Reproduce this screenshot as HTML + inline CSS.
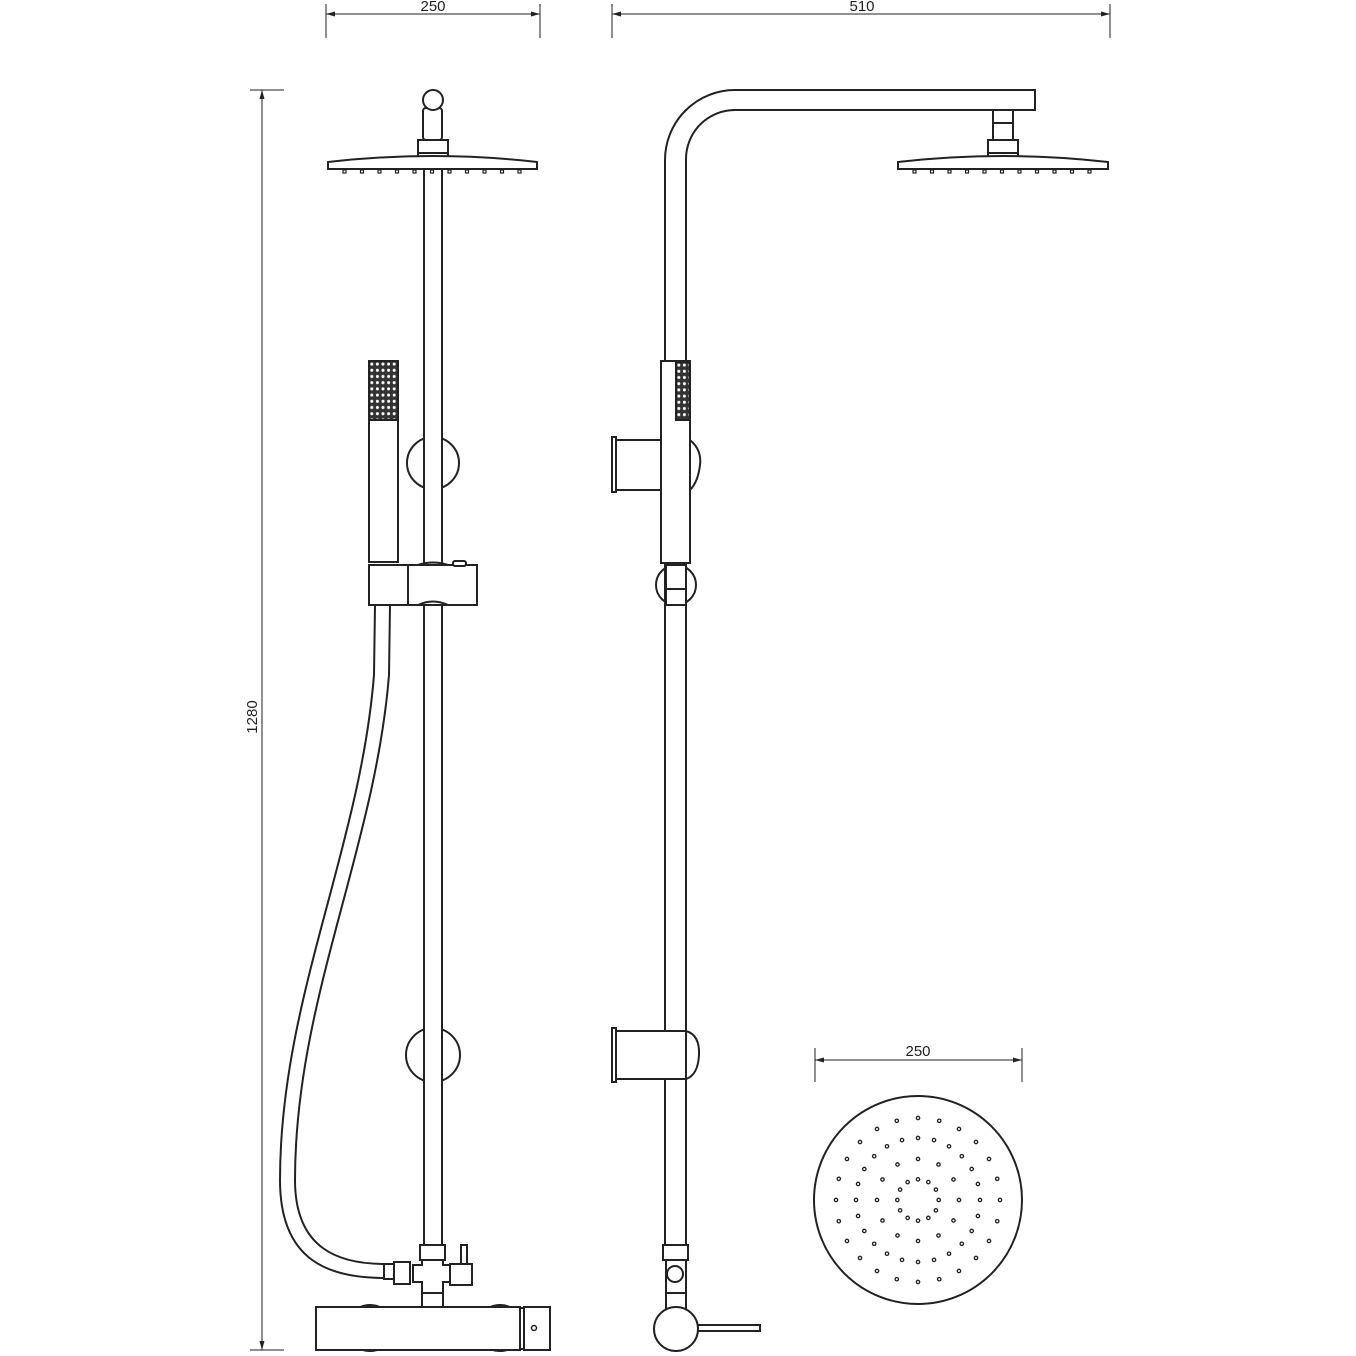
<!DOCTYPE html>
<html><head><meta charset="utf-8"><style>html,body{margin:0;padding:0;background:#fff}svg{display:block}</style></head>
<body>
<svg width="1356" height="1356" viewBox="0 0 1356 1356" xmlns="http://www.w3.org/2000/svg" font-family="Liberation Sans, sans-serif">
<defs>
<pattern id="grL" x="369" y="361" width="5.6" height="6.2" patternUnits="userSpaceOnUse">
<rect width="5.6" height="6.2" fill="#333"/><circle cx="2.8" cy="3.1" r="1.5" fill="#fff"/></pattern>
<pattern id="grR" x="676" y="362" width="5.6" height="6.2" patternUnits="userSpaceOnUse">
<rect width="5.6" height="6.2" fill="#333"/><circle cx="2.8" cy="3.1" r="1.5" fill="#fff"/></pattern>
<g id="nz">
<rect x="0" y="0" width="3" height="3"/><rect x="17.5" y="0" width="3" height="3"/><rect x="35" y="0" width="3" height="3"/><rect x="52.5" y="0" width="3" height="3"/><rect x="70" y="0" width="3" height="3"/><rect x="87.5" y="0" width="3" height="3"/><rect x="105" y="0" width="3" height="3"/><rect x="122.5" y="0" width="3" height="3"/><rect x="140" y="0" width="3" height="3"/><rect x="157.5" y="0" width="3" height="3"/><rect x="175" y="0" width="3" height="3"/>
</g>
<g id="q">
<circle cx="20.7" cy="0" r="1.7"/><circle cx="17.9" cy="10.35" r="1.7"/><circle cx="10.35" cy="17.9" r="1.7"/>
<circle cx="41" cy="0" r="1.7"/><circle cx="35.5" cy="20.5" r="1.7"/><circle cx="20.5" cy="35.5" r="1.7"/>
<circle cx="62" cy="0" r="1.7"/><circle cx="59.9" cy="16" r="1.7"/><circle cx="53.7" cy="31" r="1.7"/><circle cx="43.8" cy="43.8" r="1.7"/><circle cx="31" cy="53.7" r="1.7"/><circle cx="16" cy="59.9" r="1.7"/>
<circle cx="82" cy="0" r="1.7"/><circle cx="79.2" cy="21.2" r="1.7"/><circle cx="71" cy="41" r="1.7"/><circle cx="58" cy="58" r="1.7"/><circle cx="41" cy="71" r="1.7"/><circle cx="21.2" cy="79.2" r="1.7"/>
</g>
</defs>
<g stroke="#222" stroke-width="1" fill="none">
<line x1="326" y1="4" x2="326" y2="38"/><line x1="540" y1="4" x2="540" y2="38"/>
<line x1="326" y1="14" x2="540" y2="14"/>
<line x1="612" y1="4" x2="612" y2="38"/><line x1="1110" y1="4" x2="1110" y2="38"/>
<line x1="612" y1="14" x2="1110" y2="14"/>
<line x1="250" y1="90" x2="284" y2="90"/><line x1="250" y1="1350" x2="284" y2="1350"/>
<line x1="262" y1="90" x2="262" y2="1350"/>
<line x1="815" y1="1048" x2="815" y2="1082"/><line x1="1022" y1="1048" x2="1022" y2="1082"/>
<line x1="815" y1="1060" x2="1022" y2="1060"/>
</g>
<g fill="#222" stroke="none">
<path d="M326 14 l9 -2.5 v5z M540 14 l-9 -2.5 v5z M612 14 l9 -2.5 v5z M1110 14 l-9 -2.5 v5z M262 90 l-2.5 9 h5z M262 1350 l-2.5 -9 h5z M815 1060 l9 -2.5 v5z M1022 1060 l-9 -2.5 v5z"/>
</g>
<g font-size="15" fill="#222" text-anchor="middle">
<text x="433" y="11">250</text>
<text x="862" y="11">510</text>
<text x="918" y="1056">250</text>
<text transform="translate(257,717) rotate(-90)">1280</text>
</g>

<g stroke="#222" stroke-width="2" fill="#fff">
<!-- LEFT VIEW -->
<circle cx="433" cy="463" r="26"/>
<circle cx="433" cy="1055" r="27"/>
<rect x="424" y="165" width="18" height="1082"/>
<rect x="423" y="108" width="19" height="32" rx="3"/>
<circle cx="433" cy="100" r="10"/>
<rect x="418" y="140" width="30" height="18"/>
<line x1="418" y1="153" x2="448" y2="153"/>
<path d="M328 162 Q433 150 537 162 L537 169 L328 169 Z"/>
<rect x="369" y="361" width="29" height="201"/>
<rect x="369" y="361" width="29" height="59" fill="url(#grL)"/>
<rect x="369" y="565" width="108" height="40"/>
<line x1="408" y1="565" x2="408" y2="605"/>
<path d="M418 565 Q433 560 448 565 M418 605 Q433 598 448 605" fill="none"/>
<rect x="453" y="561" width="13" height="5" rx="2"/>
<path d="M375 605 L374 675 C 360 850 280 1000 280 1180 C 280 1262 330 1278 385 1278" fill="none"/>
<path d="M390 605 L389 675 C 375 850 295 1000 295 1180 C 295 1250 340 1264 385 1264" fill="none"/>
<rect x="384" y="1264" width="10" height="15"/>
<rect x="394" y="1262" width="16" height="22"/>
<rect x="420" y="1245" width="25" height="15"/>
<path d="M422 1260 H443 V1265 H450 V1282 H443 V1307 H422 V1282 H413 V1265 H422 Z"/>
<line x1="422" y1="1293" x2="443" y2="1293"/>
<rect x="461" y="1245" width="6" height="20"/>
<rect x="450" y="1264" width="22" height="21"/>
<circle cx="370" cy="1328" r="23"/><circle cx="500" cy="1328" r="23"/>
<rect x="316" y="1307" width="204" height="43"/>
<rect x="520" y="1308" width="4" height="41"/>
<rect x="524" y="1307" width="26" height="43"/>
<circle cx="534" cy="1328" r="2.5" stroke-width="1.5"/>

<!-- RIGHT VIEW -->
<circle cx="676" cy="585" r="20"/>
<path d="M665 1247 V160 A70 70 0 0 1 735 90 H1035 V110 H735 A49 49 0 0 0 686 159 V1247"/>
<rect x="993" y="110" width="20" height="30"/>
<line x1="993" y1="123" x2="1013" y2="123"/>
<rect x="988" y="140" width="30" height="18"/>
<line x1="988" y1="153" x2="1018" y2="153"/>
<path d="M898 162 Q1003 150 1108 162 L1108 169 L898 169 Z"/>
<path d="M690 440 Q702 450 700 465 Q698 482 690 490"/>
<rect x="614" y="440" width="47" height="50"/>
<rect x="612" y="437" width="4" height="55"/>
<rect x="661" y="361" width="29" height="202"/>
<rect x="676" y="362" width="14" height="58" fill="url(#grR)"/>
<rect x="666" y="565" width="20" height="40"/>
<line x1="666" y1="589" x2="686" y2="589"/>
<path d="M686 1031 Q700 1035 699 1055 Q698 1075 686 1079"/>
<rect x="614" y="1031" width="72" height="48"/>
<rect x="612" y="1028" width="4" height="54"/>
<rect x="663" y="1245" width="25" height="15"/>
<rect x="666" y="1260" width="20" height="50"/>
<circle cx="675" cy="1274" r="8"/>
<line x1="666" y1="1293" x2="686" y2="1293"/>
<rect x="697" y="1325" width="63" height="6"/>
<circle cx="676" cy="1329" r="22"/>

<circle cx="918" cy="1200" r="104"/>
</g>
<g stroke="#222" stroke-width="1.2" fill="#fff">
<use href="#nz" transform="translate(343,170)"/>
<use href="#nz" transform="translate(913,170)"/>
</g>
<g stroke="#222" stroke-width="1.3" fill="none">
<use href="#q" transform="translate(918,1200)"/>
<use href="#q" transform="translate(918,1200) rotate(90)"/>
<use href="#q" transform="translate(918,1200) rotate(180)"/>
<use href="#q" transform="translate(918,1200) rotate(270)"/>
</g>
</svg>
</body></html>
